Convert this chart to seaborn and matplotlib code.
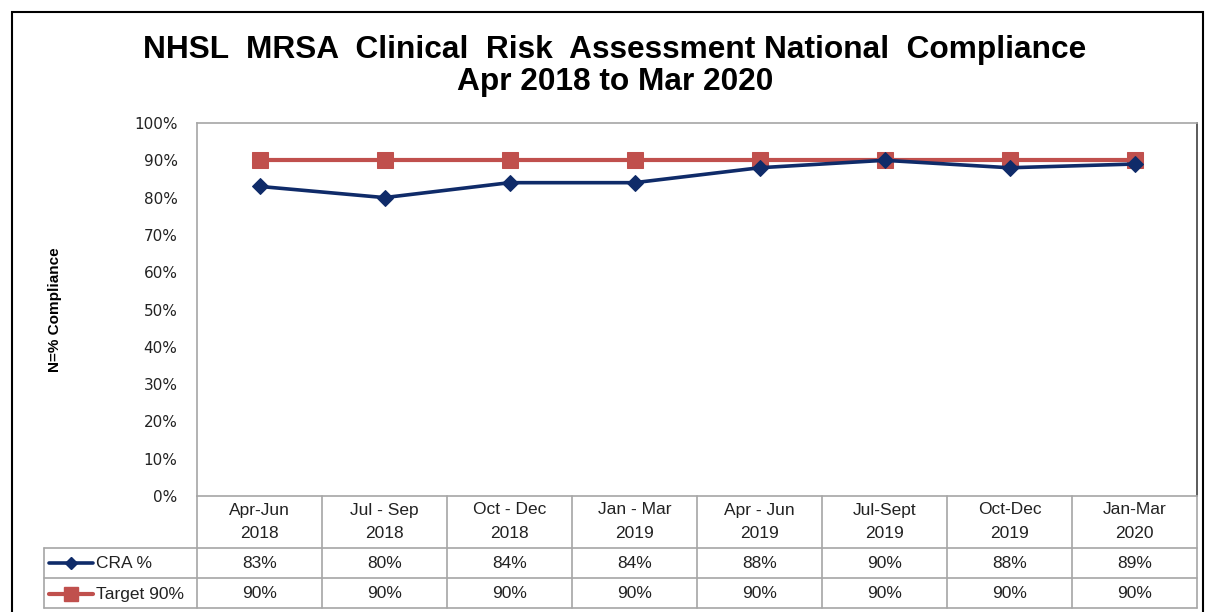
import matplotlib
matplotlib.use("Agg")
import matplotlib.pyplot as plt
from matplotlib.lines import Line2D
from matplotlib.patches import Rectangle
import seaborn as sns
import pandas as pd

# ---- data ----
categories = ["Apr-Jun\n2018", "Jul - Sep\n2018", "Oct - Dec\n2018", "Jan - Mar\n2019",
              "Apr - Jun\n2019", "Jul-Sept\n2019", "Oct-Dec\n2019", "Jan-Mar\n2020"]
cra_values = [83, 80, 84, 84, 88, 90, 88, 89]
target_values = [90, 90, 90, 90, 90, 90, 90, 90]
series_names = ["CRA %", "Target 90%"]
y_ticks = [0, 10, 20, 30, 40, 50, 60, 70, 80, 90, 100]
title_text = "NHSL  MRSA  Clinical  Risk  Assessment National  Compliance\nApr 2018 to Mar 2020"
ylabel_text = "N=% Compliance"

navy = "#0F2B69"
red = "#C0504D"
grid_gray = "#A6A6A6"

sns.set_style("white")
plt.rcParams["font.family"] = ["DejaVu Sans"]

W, H = 1208, 612
fig = plt.figure(figsize=(W / 100, H / 100), dpi=100)

def fx(x):
    return x / W

def fy(y):
    return 1 - y / H

ax_l, ax_r, ax_t, ax_b = 197, 1197, 123, 496
ax = fig.add_axes([fx(ax_l), fy(ax_b), fx(ax_r) - fx(ax_l), fy(ax_t) - fy(ax_b)])

n = len(categories)
pos = list(range(n))
df = pd.DataFrame({
    "pos": pos * 2,
    "value": cra_values + target_values,
    "series": [series_names[0]] * n + [series_names[1]] * n,
})

sns.lineplot(data=df[df.series == series_names[1]], x="pos", y="value", ax=ax,
             color=red, lw=3, marker="s", markersize=11, markeredgecolor=red,
             legend=False, zorder=3)
sns.lineplot(data=df[df.series == series_names[0]], x="pos", y="value", ax=ax,
             color=navy, lw=2.6, marker="D", markersize=8, markeredgecolor=navy,
             legend=False, zorder=4)

ax.set_xlim(-0.5, n - 0.5)
ax.set_ylim(0, 100)
ax.set_yticks(y_ticks)
ax.set_yticklabels([f"{v}%" for v in y_ticks], fontsize=11, color="#222222")
ax.tick_params(axis="y", length=0, pad=14)
ax.set_xticks([])
ax.set_xlabel("")
ax.set_ylabel("")
for s in ["left", "top", "bottom"]:
    ax.spines[s].set_color(grid_gray)
    ax.spines[s].set_linewidth(1.2)
ax.spines["right"].set_color("#404040")
ax.spines["right"].set_linewidth(1.2)

# ---- data table beneath the axis ----
col_w = (ax_r - ax_l) / n
row_hdr_bot = 548
row1_bot = 578
row2_bot = 608
leg_left = 44
lw_tab = 1.2

def hline(y, x0, x1):
    fig.add_artist(Line2D([fx(x0), fx(x1)], [fy(y), fy(y)], color=grid_gray, lw=lw_tab))

def vline(x, y0, y1):
    fig.add_artist(Line2D([fx(x), fx(x)], [fy(y0), fy(y1)], color=grid_gray, lw=lw_tab))

hline(row_hdr_bot, leg_left, ax_r)
hline(row1_bot, leg_left, ax_r)
hline(row2_bot, leg_left, ax_r)
for i in range(n + 1):
    vline(ax_l + i * col_w, ax_b, row2_bot)
vline(leg_left, row_hdr_bot, row2_bot)

tab_font = dict(family=["Liberation Sans", "DejaVu Sans"], fontsize=12.5, color="#222222")
for i, cat in enumerate(categories):
    cx = ax_l + (i + 0.5) * col_w
    l1, l2 = cat.split("\n")
    fig.text(fx(cx), fy(510), l1, ha="center", va="center", **tab_font)
    fig.text(fx(cx), fy(534), l2, ha="center", va="center", **tab_font)
    fig.text(fx(cx), fy(563), f"{cra_values[i]}%", ha="center", va="center", **tab_font)
    fig.text(fx(cx), fy(594), f"{target_values[i]}%", ha="center", va="center", **tab_font)

# legend keys in table
for yy, col, mk, ms, lw_, name in [(563, navy, "D", 6, 2.6, series_names[0]),
                                   (594, red, "s", 10, 3, series_names[1])]:
    fig.add_artist(Line2D([fx(49), fx(93)], [fy(yy), fy(yy)], color=col, lw=lw_))
    fig.add_artist(Line2D([fx(71)], [fy(yy)], color=col, marker=mk, markersize=ms,
                          markeredgecolor=col))
    fig.text(fx(96), fy(yy), name, ha="left", va="center", **tab_font)

# ---- title & y label ----
fig.text(fx(615), fy(66), title_text, ha="center", va="center", fontsize=22.8,
         fontweight="bold", family=["Liberation Sans", "DejaVu Sans"],
         linespacing=1.12, color="black")
fig.text(fx(55), fy(310), ylabel_text, ha="center", va="center", rotation=90,
         fontsize=11, fontweight="bold", family=["Liberation Sans", "DejaVu Sans"],
         color="black")

# outer chart border
fig.add_artist(Rectangle((fx(12), fy(640)), fx(1203) - fx(12), fy(12) - fy(640),
                         fill=False, edgecolor="black", lw=1.5, clip_on=False))

fig.savefig("out.png", dpi=100)
